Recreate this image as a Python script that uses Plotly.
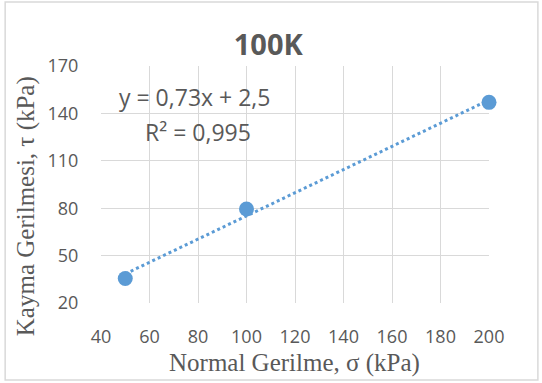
import numpy as np
import plotly.graph_objects as go

normal_stress = [50, 100, 200]
shear_stress = [35.5, 79.5, 147]
x_ticks = [40, 60, 80, 100, 120, 140, 160, 180, 200]
y_ticks = [20, 50, 80, 110, 140, 170]

slope, intercept = np.polyfit(normal_stress, shear_stress, 1)
trend_x = [min(normal_stress), max(normal_stress)]
trend_y = [slope * v + intercept for v in trend_x]

blue = "#5B9BD5"
grey = "#595959"
sans = "Open Sans, Noto Sans"
serif = "Liberation Serif, Times New Roman"

fig = go.Figure()
fig.add_trace(go.Scatter(x=trend_x, y=trend_y, mode="lines",
                         line=dict(color=blue, width=3, dash="dot"),
                         showlegend=False, hoverinfo="skip"))
fig.add_trace(go.Scatter(x=normal_stress, y=shear_stress, mode="markers",
                         marker=dict(color=blue, size=15),
                         showlegend=False, cliponaxis=False))

fig.update_layout(
    width=542, height=383,
    margin=dict(l=101, r=53, t=66, b=80),
    paper_bgcolor="white", plot_bgcolor="white",
    title=dict(text="<b>100K</b>", x=0.495, xanchor="center", y=0.882, yanchor="middle",
               font=dict(family=sans, size=29, color=grey)),
    xaxis=dict(range=[40, 200], tickvals=x_ticks, showgrid=True, gridcolor="#D9D9D9",
               gridwidth=1, zeroline=False, showline=False,
               ticks="outside", ticklen=17, tickcolor="rgba(0,0,0,0)",
               tickfont=dict(family=sans, size=18, color=grey)),
    yaxis=dict(range=[20, 170], tickvals=y_ticks, showgrid=True, gridcolor="#D9D9D9",
               gridwidth=1, zeroline=False, showline=False,
               ticks="outside", ticklen=18, tickcolor="rgba(0,0,0,0)",
               tickfont=dict(family=sans, size=18, color=grey)),
    annotations=[
        dict(text="y = 0,73x + 2,5", xref="paper", yref="paper", x=0.04, y=0.869,
             xanchor="left", yanchor="middle", showarrow=False,
             font=dict(family=sans, size=23, color=grey)),
        dict(text="R² = 0,995", xref="paper", yref="paper", x=0.108, y=0.721,
             xanchor="left", yanchor="middle", showarrow=False,
             font=dict(family=sans, size=23, color=grey)),
        dict(text="Normal Gerilme, σ (kPa)", xref="paper", yref="paper", x=0.498, y=-0.253,
             xanchor="center", yanchor="middle", showarrow=False,
             font=dict(family=serif, size=25, color=grey)),
        dict(text="Kayma Gerilmesi, τ (kPa)", xref="paper", yref="paper", x=-0.193, y=0.409,
             xanchor="center", yanchor="middle", showarrow=False, textangle=-90,
             font=dict(family=serif, size=25, color=grey)),
    ],
    shapes=[dict(type="rect", xref="paper", yref="paper", x0=-0.247, x1=1.126,
                 y0=-0.325, y1=1.27, line=dict(color="#D9D9D9", width=1.5))],
)
fig.write_html("out.html", config={"displayModeBar": False},
               post_script="document.body.style.margin='0';")
